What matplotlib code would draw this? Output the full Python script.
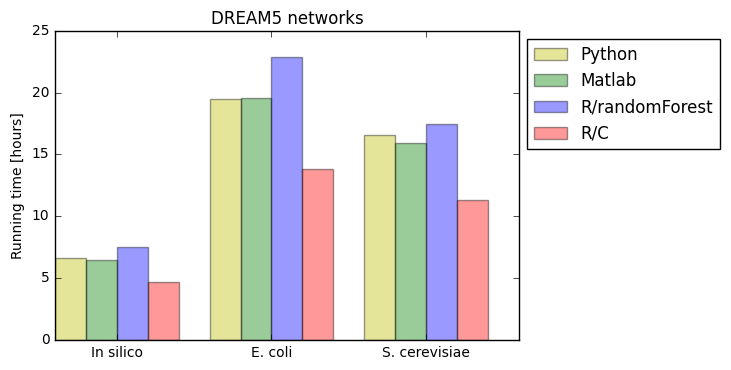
import numpy as np
import matplotlib
matplotlib.use('Agg')
import matplotlib.pyplot as plt

plt.style.use('classic')

networks = ['In silico', 'E. coli', 'S. cerevisiae']
methods = ['Python', 'Matlab', 'R/randomForest', 'R/C']
colors = ['y', 'g', 'b', 'r']

# running times in hours, one list per method
python_t = [6.6, 19.5, 16.6]
matlab_t = [6.45, 19.6, 15.9]
rf_t = [7.55, 22.9, 17.5]
rc_t = [4.7, 13.85, 11.3]
times = [python_t, matlab_t, rf_t, rc_t]

width = 0.2
x = np.arange(len(networks))

fig = plt.figure(figsize=(7.31, 3.70), dpi=100, facecolor='white')
ax = fig.add_axes([0.0752, 0.081, 0.6347, 0.836])

for k, (m, c, t) in enumerate(zip(methods, colors, times)):
    ax.bar(x + k * width, t, width, color=c, alpha=0.4, label=m,
           align='edge', edgecolor='k', linewidth=1.0)

ax.set_xlim(0, 3)
ax.set_ylim(0, 25)
ax.set_xticks(x + 2 * width)
ax.set_xticklabels(networks)
ax.tick_params(labelsize=10)
ax.set_ylabel('Running time [hours]', fontsize=10)
ax.set_title('DREAM5 networks', fontsize=12)

ax.legend(loc='upper left', bbox_to_anchor=(1, 1), fontsize=12)

fig.savefig('out.png', dpi=100, facecolor='white')
